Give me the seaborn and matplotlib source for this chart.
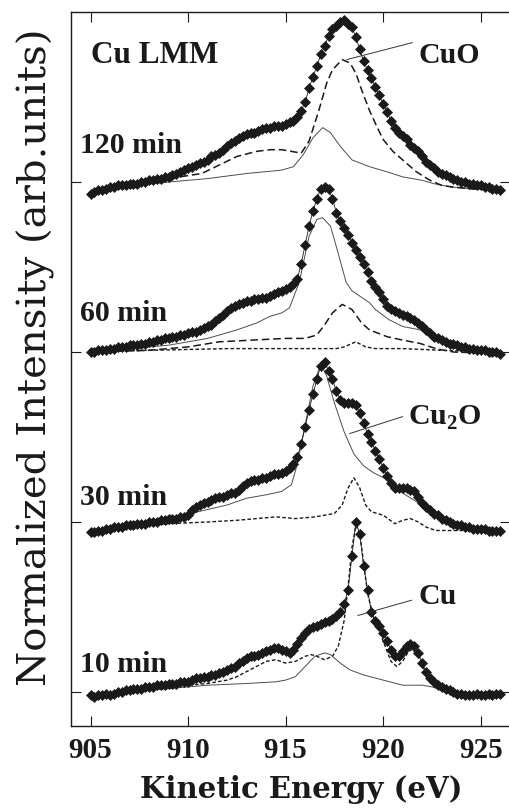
import numpy as np
import pandas as pd
import seaborn as sns
import matplotlib.pyplot as plt

sns.set_theme(style='ticks')
plt.rcParams['font.family'] = ['Liberation Serif', 'DejaVu Serif']
plt.rcParams['mathtext.fontset'] = 'custom'
plt.rcParams['mathtext.bf'] = 'Liberation Serif:bold'
plt.rcParams['mathtext.rm'] = 'Liberation Serif:bold'


# Data: measured spectra, 905.0 ... 926.0 eV in 0.2 eV steps
times = ['10 min', '30 min', '60 min', '120 min']
offsets = [0, 1, 2, 3]
e_start, e_step = 905.0, 0.2

d10 = [-0.02, -0.03, -0.02, -0.02, -0.01, -0.02, -0.01, 0.00, 0.00, 0.01,
       0.01, 0.02, 0.02, 0.02, 0.03, 0.03, 0.03, 0.04, 0.04, 0.04,
       0.05, 0.05, 0.05, 0.06, 0.06, 0.06, 0.07, 0.08, 0.08, 0.09,
       0.09, 0.10, 0.10, 0.11, 0.12, 0.13, 0.14, 0.15, 0.17, 0.18,
       0.20, 0.21, 0.21, 0.22, 0.23, 0.24, 0.25, 0.26, 0.26, 0.25,
       0.24, 0.23, 0.25, 0.28, 0.32, 0.35, 0.37, 0.38, 0.39, 0.40,
       0.41, 0.42, 0.43, 0.45, 0.47, 0.52, 0.60, 0.80, 1.00, 0.93,
       0.74, 0.60, 0.47, 0.42, 0.39, 0.35, 0.30, 0.25, 0.21, 0.21,
       0.24, 0.27, 0.28, 0.27, 0.23, 0.17, 0.12, 0.08, 0.06, 0.04,
       0.03, 0.02, 0.01, 0.00, -0.01, -0.01, -0.02, -0.02, -0.02, -0.01,
       -0.02, -0.02, -0.01, -0.02, -0.01, -0.01]
d30 = [-0.06, -0.06, -0.05, -0.05, -0.04, -0.04, -0.03, -0.03, -0.03, -0.02,
       -0.02, -0.02, -0.01, -0.01, -0.01, 0.00, 0.00, 0.00, 0.01, 0.01,
       0.02, 0.02, 0.02, 0.03, 0.03, 0.04, 0.07, 0.09, 0.10, 0.11,
       0.12, 0.13, 0.14, 0.15, 0.15, 0.16, 0.17, 0.17, 0.19, 0.21,
       0.23, 0.24, 0.25, 0.25, 0.26, 0.26, 0.27, 0.28, 0.28, 0.29,
       0.30, 0.32, 0.34, 0.38, 0.46, 0.56, 0.66, 0.75, 0.84, 0.92,
       0.94, 0.89, 0.84, 0.77, 0.72, 0.70, 0.70, 0.70, 0.69, 0.64,
       0.58, 0.52, 0.47, 0.42, 0.37, 0.32, 0.27, 0.23, 0.20, 0.20,
       0.20, 0.20, 0.19, 0.18, 0.15, 0.11, 0.09, 0.07, 0.05, 0.04,
       0.02, 0.01, 0.00, -0.01, -0.02, -0.02, -0.03, -0.03, -0.04, -0.04,
       -0.04, -0.04, -0.05, -0.05, -0.05, -0.05]
d60 = [0.00, 0.00, 0.01, 0.01, 0.01, 0.02, 0.02, 0.03, 0.03, 0.03,
       0.04, 0.04, 0.04, 0.05, 0.05, 0.06, 0.06, 0.07, 0.07, 0.08,
       0.08, 0.09, 0.09, 0.10, 0.10, 0.11, 0.12, 0.12, 0.13, 0.14,
       0.15, 0.16, 0.18, 0.20, 0.22, 0.24, 0.26, 0.27, 0.28, 0.29,
       0.30, 0.30, 0.31, 0.31, 0.32, 0.32, 0.33, 0.34, 0.35, 0.36,
       0.37, 0.38, 0.40, 0.43, 0.52, 0.63, 0.74, 0.83, 0.90, 0.96,
       0.97, 0.96, 0.90, 0.82, 0.77, 0.73, 0.69, 0.64, 0.60, 0.56,
       0.52, 0.47, 0.42, 0.38, 0.35, 0.31, 0.27, 0.25, 0.24, 0.23,
       0.22, 0.21, 0.20, 0.19, 0.17, 0.15, 0.13, 0.11, 0.09, 0.08,
       0.07, 0.06, 0.05, 0.05, 0.04, 0.03, 0.03, 0.02, 0.02, 0.01,
       0.01, 0.01, 0.00, 0.00, 0.00, -0.01]
d120 = [-0.07, -0.06, -0.05, -0.05, -0.04, -0.03, -0.03, -0.02, -0.02, -0.02,
        -0.01, -0.01, -0.01, 0.00, 0.00, 0.01, 0.01, 0.02, 0.02, 0.03,
        0.03, 0.04, 0.05, 0.06, 0.07, 0.08, 0.09, 0.10, 0.11, 0.12,
        0.13, 0.15, 0.16, 0.17, 0.19, 0.21, 0.23, 0.24, 0.26, 0.27,
        0.28, 0.29, 0.29, 0.30, 0.31, 0.32, 0.32, 0.33, 0.33, 0.33,
        0.34, 0.35, 0.36, 0.38, 0.42, 0.47, 0.55, 0.62, 0.68, 0.75,
        0.80, 0.86, 0.90, 0.92, 0.94, 0.95, 0.93, 0.91, 0.85, 0.78,
        0.71, 0.66, 0.61, 0.56, 0.51, 0.46, 0.41, 0.36, 0.32, 0.29,
        0.27, 0.25, 0.22, 0.20, 0.18, 0.15, 0.12, 0.10, 0.08, 0.06,
        0.05, 0.04, 0.03, 0.02, 0.01, 0.00, 0.00, -0.01, -0.01, -0.02,
        -0.02, -0.03, -0.03, -0.04, -0.04, -0.05]

# Fitted components (energy, intensity)
e10_cu = [905, 907, 909, 911, 912, 912.5, 913, 913.5, 914, 914.5, 915, 915.5, 916, 916.3,
          916.6, 917, 917.4, 917.7, 918, 918.2, 918.4, 918.6, 918.8, 919, 919.2, 919.5,
          919.8, 920.1, 920.4, 920.7, 921, 921.3, 921.5, 921.8, 922.1, 922.4, 922.8,
          923.3, 924, 926]
i10_cu = [-0.02, 0.01, 0.03, 0.05, 0.07, 0.09, 0.12, 0.15, 0.18, 0.19, 0.17, 0.18, 0.21, 0.22,
          0.21, 0.19, 0.21, 0.27, 0.42, 0.62, 0.85, 0.98, 0.93, 0.76, 0.58, 0.44,
          0.36, 0.27, 0.18, 0.15, 0.18, 0.24, 0.25, 0.21, 0.13, 0.06, 0.02,
          -0.01, -0.02, -0.02]
e10_cu2o = [905, 907, 909, 911, 913, 914.5, 915, 915.5, 916, 916.5, 917, 917.3, 917.8,
            918.3, 919, 920, 921, 922, 922.5, 923, 923.5, 924, 926]
i10_cu2o = [-0.02, 0.00, 0.02, 0.04, 0.05, 0.06, 0.07, 0.09, 0.15, 0.21, 0.23, 0.22, 0.17,
            0.13, 0.10, 0.07, 0.04, 0.04, 0.03, 0.01, -0.01, -0.02, -0.02]

e30_cu = [905, 907, 909, 911, 912.5, 913.5, 914.5, 915.5, 916.5, 917.5, 917.9, 918.2,
          918.5, 918.8, 919.1, 919.4, 920, 920.6, 921.0, 921.4, 921.8, 922.2, 922.7, 926]
i30_cu = [-0.06, -0.03, -0.01, 0.00, 0.01, 0.02, 0.03, 0.02, 0.03, 0.05, 0.10, 0.20,
          0.26, 0.20, 0.10, 0.06, 0.04, -0.01, 0.01, 0.02, 0.00, -0.03, -0.05, -0.05]
e30_cu2o = [905, 907, 909, 910.5, 912, 913, 914, 914.8, 915.3, 915.6, 916, 916.4, 916.8,
            917.1, 917.5, 918, 918.5, 919, 919.5, 920.2, 921, 921.7, 922.2, 922.7, 923.3,
            924, 925, 926]
i30_cu2o = [-0.06, -0.02, 0.02, 0.06, 0.10, 0.14, 0.16, 0.18, 0.22, 0.34, 0.57, 0.80, 0.93,
            0.86, 0.70, 0.53, 0.40, 0.33, 0.29, 0.25, 0.17, 0.12, 0.08, 0.04, 0.00,
            -0.03, -0.04, -0.05]

e60_cu2o = [905, 907, 909, 911, 912.5, 913.5, 914.2, 914.8, 915.2, 915.7, 916.2, 916.6,
            916.9, 917.3, 917.6, 918.1, 918.4, 919.3, 919.6, 920.3, 921, 921.9, 922.3,
            922.8, 923.5, 924.5, 926]
i60_cu2o = [0.00, 0.02, 0.04, 0.08, 0.13, 0.17, 0.21, 0.23, 0.26, 0.41, 0.68, 0.78,
            0.79, 0.74, 0.62, 0.41, 0.36, 0.29, 0.25, 0.19, 0.15, 0.13, 0.10,
            0.07, 0.04, 0.02, -0.01]
e60_cuo = [905, 908, 910, 911.6, 913.3, 915, 916, 916.6, 917.0, 917.4, 917.9, 918.4,
           918.9, 919.3, 920.2, 921, 921.9, 922.7, 923.6, 926]
i60_cuo = [0.00, 0.01, 0.03, 0.06, 0.07, 0.08, 0.08, 0.10, 0.16, 0.23, 0.28, 0.25,
           0.17, 0.13, 0.09, 0.07, 0.05, 0.02, 0.00, -0.01]
e60_cu = [905, 908, 912, 916, 917.6, 918.0, 918.6, 919.1, 919.6, 921, 923, 926]
i60_cu = [0.00, 0.01, 0.02, 0.02, 0.02, 0.03, 0.06, 0.03, 0.02, 0.02, 0.01, 0.00]

e120_cuo = [905, 907.4, 909, 910.7, 911.6, 912.5, 913.5, 914.2, 914.8, 915.3, 915.8,
            916.2, 916.7, 917.1, 917.4, 917.9, 918.3, 918.6, 918.9, 919.3, 919.7, 920,
            920.5, 921, 921.7, 922.4, 923, 923.6, 924.5, 926]
i120_cuo = [-0.07, -0.02, 0.02, 0.05, 0.10, 0.15, 0.18, 0.19, 0.19, 0.18, 0.17,
            0.24, 0.42, 0.58, 0.66, 0.72, 0.70, 0.64, 0.54, 0.42, 0.32, 0.25,
            0.18, 0.13, 0.06, 0.01, -0.02, -0.03, -0.04, -0.05]
e120_cu2o = [905, 907.4, 909, 911, 913, 914.8, 915.4, 915.9, 916.4, 916.9, 917.3, 917.8,
             918.4, 919.3, 920.2, 921, 922, 922.6, 923.5, 924.5, 926]
i120_cu2o = [-0.07, -0.02, 0.00, 0.02, 0.05, 0.07, 0.09, 0.16, 0.26, 0.32, 0.29, 0.21,
             0.13, 0.09, 0.06, 0.03, 0.01, -0.01, -0.03, -0.04, -0.05]

fits = [('10 min', 'Cu', e10_cu, i10_cu), ('10 min', 'Cu2O', e10_cu2o, i10_cu2o),
        ('30 min', 'Cu', e30_cu, i30_cu), ('30 min', 'Cu2O', e30_cu2o, i30_cu2o),
        ('60 min', 'Cu2O', e60_cu2o, i60_cu2o), ('60 min', 'CuO', e60_cuo, i60_cuo),
        ('60 min', 'Cu', e60_cu, i60_cu),
        ('120 min', 'CuO', e120_cuo, i120_cuo), ('120 min', 'Cu2O', e120_cu2o, i120_cu2o)]


# Long-form tables
shift = dict(zip(times, offsets))
rows = []
for t, vals in zip(times, [d10, d30, d60, d120]):
    for k, v in enumerate(vals):
        rows.append((t, round(e_start + e_step * k, 1), v + shift[t]))
spec = pd.DataFrame(rows, columns=['time', 'energy', 'intensity'])

rows = []
for t, phase, es, ys in fits:
    for e, y in zip(es, ys):
        rows.append((t + phase, phase, e, y + shift[t]))
comp = pd.DataFrame(rows, columns=['curve', 'phase', 'energy', 'intensity'])


# Figure
fig = plt.figure(figsize=(5.1, 8.1), dpi=100)
ax = fig.add_axes([71 / 510, 84 / 810, 439 / 510, 714 / 810])

sns.lineplot(data=comp, x='energy', y='intensity', units='curve', estimator=None,
             sort=False, hue='phase', style='phase', size='phase',
             palette={'Cu2O': '0.3', 'CuO': 'k', 'Cu': 'k'},
             dashes={'Cu2O': '', 'CuO': (5, 2.5), 'Cu': (2.6, 1.6)},
             sizes={'Cu2O': 0.7, 'CuO': 1.1, 'Cu': 1.0},
             legend=False, ax=ax, zorder=2)
sns.lineplot(data=spec, x='energy', y='intensity', units='time', estimator=None,
             sort=False, color='k', linewidth=0.6, marker='D', markersize=5.4,
             markeredgecolor='k', markeredgewidth=0.5, legend=False, ax=ax, zorder=3)

ax.set_xlim(904.0, 926.5)
ax.set_ylim(-0.2, 4.0)
ax.set_xticks([905, 910, 915, 920, 925])
ax.set_yticks(offsets)
ax.tick_params(direction='in', top=True, right=True, length=7, width=0.8,
               labelsize=21, labelleft=False, pad=8, colors='k')
for lab in ax.get_xticklabels():
    lab.set_fontweight('bold')
for s in ax.spines.values():
    s.set_linewidth(1.0)
    s.set_color('k')
ax.spines['right'].set_visible(False)

ax.set_xlabel('Kinetic Energy (eV)', family='DejaVu Serif', fontweight='bold',
              fontsize=21, color='k')
ax.xaxis.set_label_coords(0.524, -0.068)
ax.set_ylabel('Normalized Intensity (arb.units)', family='DejaVu Serif',
              fontsize=29, color='k')
ax.yaxis.set_label_coords(-0.036, 0.517)

# Labels
lab_kw = dict(fontsize=21.5, fontweight='bold', color='k', va='baseline', ha='left')
ax.text(905.05, 3.70, 'Cu LMM', fontsize=22.5,
        **{k: v for k, v in lab_kw.items() if k != 'fontsize'})
for t, yb in zip(times, [0.12, 1.10, 2.18, 3.17]):
    ax.text(904.45, yb, t, **lab_kw)
ax.text(921.8, 3.70, 'CuO', **lab_kw)
ax.text(921.26, 1.57, r'Cu$_{\mathbf{2}}$O', **lab_kw)
ax.text(921.8, 0.52, 'Cu', **lab_kw)

line_kw = dict(arrowstyle='-', lw=0.7, color='0.2', shrinkA=0, shrinkB=0)
ax.annotate('', xy=(918.13, 3.72), xytext=(921.5, 3.82), arrowprops=line_kw)
ax.annotate('', xy=(918.28, 1.52), xytext=(921.0, 1.62), arrowprops=line_kw)
ax.annotate('', xy=(918.7, 0.45), xytext=(921.46, 0.54), arrowprops=line_kw)

plt.savefig('out.png', dpi=100)
